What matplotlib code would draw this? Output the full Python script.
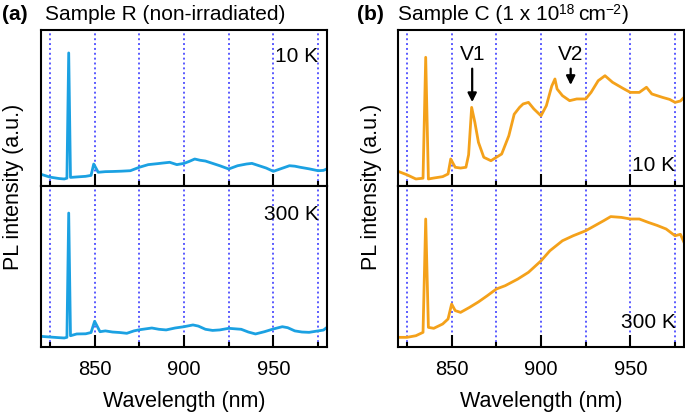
import numpy as np
import matplotlib
matplotlib.use('Agg')
import matplotlib.pyplot as plt

plt.rcParams['font.family'] = ['Liberation Sans', 'DejaVu Sans']

# spectra (wavelength in nm, intensity in a.u.)
wl_R10 = [820, 825, 830, 833, 834.5, 835.5, 836.5, 840, 845, 848, 849.5, 852, 856, 860, 865, 870, 875,
          880, 885, 888, 892, 896, 900, 903, 906, 909, 912, 916, 920, 925, 930, 935, 938, 942, 946, 950,
          954, 959, 962, 965, 970, 975, 978, 980]
pl_R10 = [0.075, 0.057, 0.048, 0.045, 0.05, 0.853, 0.055, 0.058, 0.062, 0.068, 0.141, 0.088, 0.092, 0.093,
          0.095, 0.098, 0.12, 0.137, 0.143, 0.147, 0.152, 0.137, 0.145, 0.158, 0.173, 0.165, 0.16, 0.145,
          0.13, 0.109, 0.13, 0.141, 0.145, 0.13, 0.115, 0.094, 0.11, 0.13, 0.127, 0.12, 0.11, 0.098, 0.1, 0.11]

wl_R300 = [820, 825, 830, 833, 834.5, 835.5, 836.5, 840, 845, 848, 850, 853, 856, 860, 864, 868, 872, 875,
           882, 886, 890, 895, 900, 905, 908, 912, 916, 920, 925, 932, 936, 940, 945, 950, 955, 958, 962,
           966, 970, 975, 978, 980]
pl_R300 = [0.066, 0.062, 0.058, 0.056, 0.06, 0.832, 0.07, 0.081, 0.082, 0.09, 0.16, 0.095, 0.1, 0.093,
           0.09, 0.085, 0.1, 0.107, 0.118, 0.11, 0.106, 0.118, 0.126, 0.137, 0.13, 0.11, 0.103, 0.106,
           0.116, 0.11, 0.093, 0.081, 0.095, 0.112, 0.126, 0.12, 0.1, 0.093, 0.091, 0.1, 0.105, 0.122]

wl_C10 = [820, 825, 830, 834, 835.5, 837, 840, 845, 848, 849.5, 852, 855, 858, 859.5, 861.2, 863, 865, 868,
          872, 875, 878, 882, 885, 888, 890, 893, 896, 900, 903, 906, 907.8, 909, 912, 916, 920, 925, 928,
          932, 935.8, 940, 943, 946, 950, 955, 959, 962, 968, 972, 975, 978, 980]
pl_C10 = [0.094, 0.072, 0.045, 0.05, 0.825, 0.045, 0.051, 0.06, 0.077, 0.173, 0.12, 0.115, 0.12, 0.2,
          0.504, 0.408, 0.28, 0.184, 0.162, 0.184, 0.205, 0.322, 0.46, 0.504, 0.526, 0.536, 0.494, 0.45,
          0.515, 0.64, 0.686, 0.622, 0.579, 0.547, 0.558, 0.558, 0.6, 0.675, 0.707, 0.665, 0.645, 0.625,
          0.6, 0.6, 0.633, 0.59, 0.568, 0.555, 0.536, 0.545, 0.568]

wl_C300 = [820, 825, 830, 834, 835.5, 837, 840, 845, 848, 850, 852, 855, 860, 865, 870, 875, 880, 887, 893,
           900, 905, 912, 918, 925, 930, 935, 939, 945, 950, 955, 960, 965, 970, 975, 978, 980]
pl_C300 = [0.06, 0.06, 0.07, 0.091, 0.795, 0.122, 0.116, 0.143, 0.174, 0.267, 0.226, 0.215, 0.246, 0.28,
           0.319, 0.36, 0.381, 0.422, 0.464, 0.535, 0.598, 0.66, 0.691, 0.722, 0.753, 0.784, 0.81, 0.805,
           0.795, 0.795, 0.774, 0.755, 0.733, 0.691, 0.7, 0.65]

blue = '#1ba1e2'
orange = '#f4a11a'
gridc = '#5a5aff'
fs = 15

fig = plt.figure(figsize=(6.85, 4.14), dpi=100)
W, H = 685.0, 414.0

def mkax(left, top, bottom):
    return fig.add_axes([left / W, (H - bottom) / H, 286 / W, (bottom - top) / H])

def style(ax, labels):
    ax.set_xlim(820, 980)
    ax.set_ylim(0, 1)
    for x in range(825, 980, 25):
        ax.axvline(x, color=gridc, ls=(0, (1, 1.5)), lw=1.4, zorder=0)
    ax.set_xticks([850, 900, 950])
    ax.set_xticks([825, 875, 925, 975], minor=True)
    ax.tick_params(axis='x', which='major', direction='in', length=9, width=1.5, labelsize=14.5,
                   bottom=True, top=False, labelbottom=labels, pad=9)
    ax.tick_params(axis='x', which='minor', direction='in', length=3.5, width=1.5, bottom=True, top=False)
    ax.set_yticks([])
    for s in ax.spines.values():
        s.set_linewidth(1.5)

panels = [
    (41, wl_R10, pl_R10, wl_R300, pl_R300, blue),
    (398, wl_C10, pl_C10, wl_C300, pl_C300, orange),
]
axes = []
for left, w1, p1, w2, p2, c in panels:
    top = mkax(left, 31, 187)
    bot = mkax(left, 187, 348)
    top.plot(w1, p1, color=c, lw=2)
    bot.plot(w2, p2, color=c, lw=2)
    style(top, False)
    style(bot, True)
    bot.set_xlabel('Wavelength (nm)', fontsize=15.5, labelpad=8)
    axes.append((top, bot))

(aT, aB), (bT, bB) = axes
aT.text(0.97, 0.9, '10 K', transform=aT.transAxes, ha='right', va='top', fontsize=fs)
aB.text(0.97, 0.89, '300 K', transform=aB.transAxes, ha='right', va='top', fontsize=fs)
bT.text(0.97, 0.08, '10 K', transform=bT.transAxes, ha='right', va='bottom', fontsize=fs)
bB.text(0.97, 0.1, '300 K', transform=bB.transAxes, ha='right', va='bottom', fontsize=fs)

bT.annotate('', xy=(861.5, 0.52), xytext=(861.5, 0.77),
            arrowprops=dict(arrowstyle='-|>', color='black', lw=1.6, mutation_scale=13))
bT.text(861.5, 0.79, 'V1', ha='center', va='bottom', fontsize=fs)
bT.annotate('', xy=(916.6, 0.63), xytext=(916.6, 0.77),
            arrowprops=dict(arrowstyle='-|>', color='black', lw=1.6, mutation_scale=13))
bT.text(916.6, 0.79, 'V2', ha='center', va='bottom', fontsize=fs)

fig.text(14 / W, (H - 187) / H, 'PL intensity (a.u.)', rotation=90, ha='center', va='center', fontsize=15.5)
fig.text(372 / W, (H - 187) / H, 'PL intensity (a.u.)', rotation=90, ha='center', va='center', fontsize=15.5)

yb = 1 - 20 / H
fig.text(2 / W, yb, '(a)', fontweight='bold', fontsize=fs, ha='left', va='baseline')
fig.text(45 / W, yb, 'Sample R (non-irradiated)', fontsize=fs, ha='left', va='baseline')
fig.text(357 / W, yb, '(b)', fontweight='bold', fontsize=fs, ha='left', va='baseline')
t = fig.text(398 / W, yb, 'Sample C (1 x 10', fontsize=fs, ha='left', va='baseline')
fig.canvas.draw()
bb = t.get_window_extent()
t2 = fig.text(bb.x1 / W, yb + 6 / H, '18', fontsize=10, ha='left', va='baseline')
bb2 = t2.get_window_extent()
t3 = fig.text(bb2.x1 / W + 3 / W, yb, 'cm', fontsize=fs, ha='left', va='baseline')
bb3 = t3.get_window_extent()
fig.text(bb3.x1 / W, yb + 6 / H, '\u22122', fontsize=10, ha='left', va='baseline')
bb4 = fig.texts[-1].get_window_extent()
fig.text(bb4.x1 / W, yb, ')', fontsize=fs, ha='left', va='baseline')

fig.savefig('out.png', dpi=100)
